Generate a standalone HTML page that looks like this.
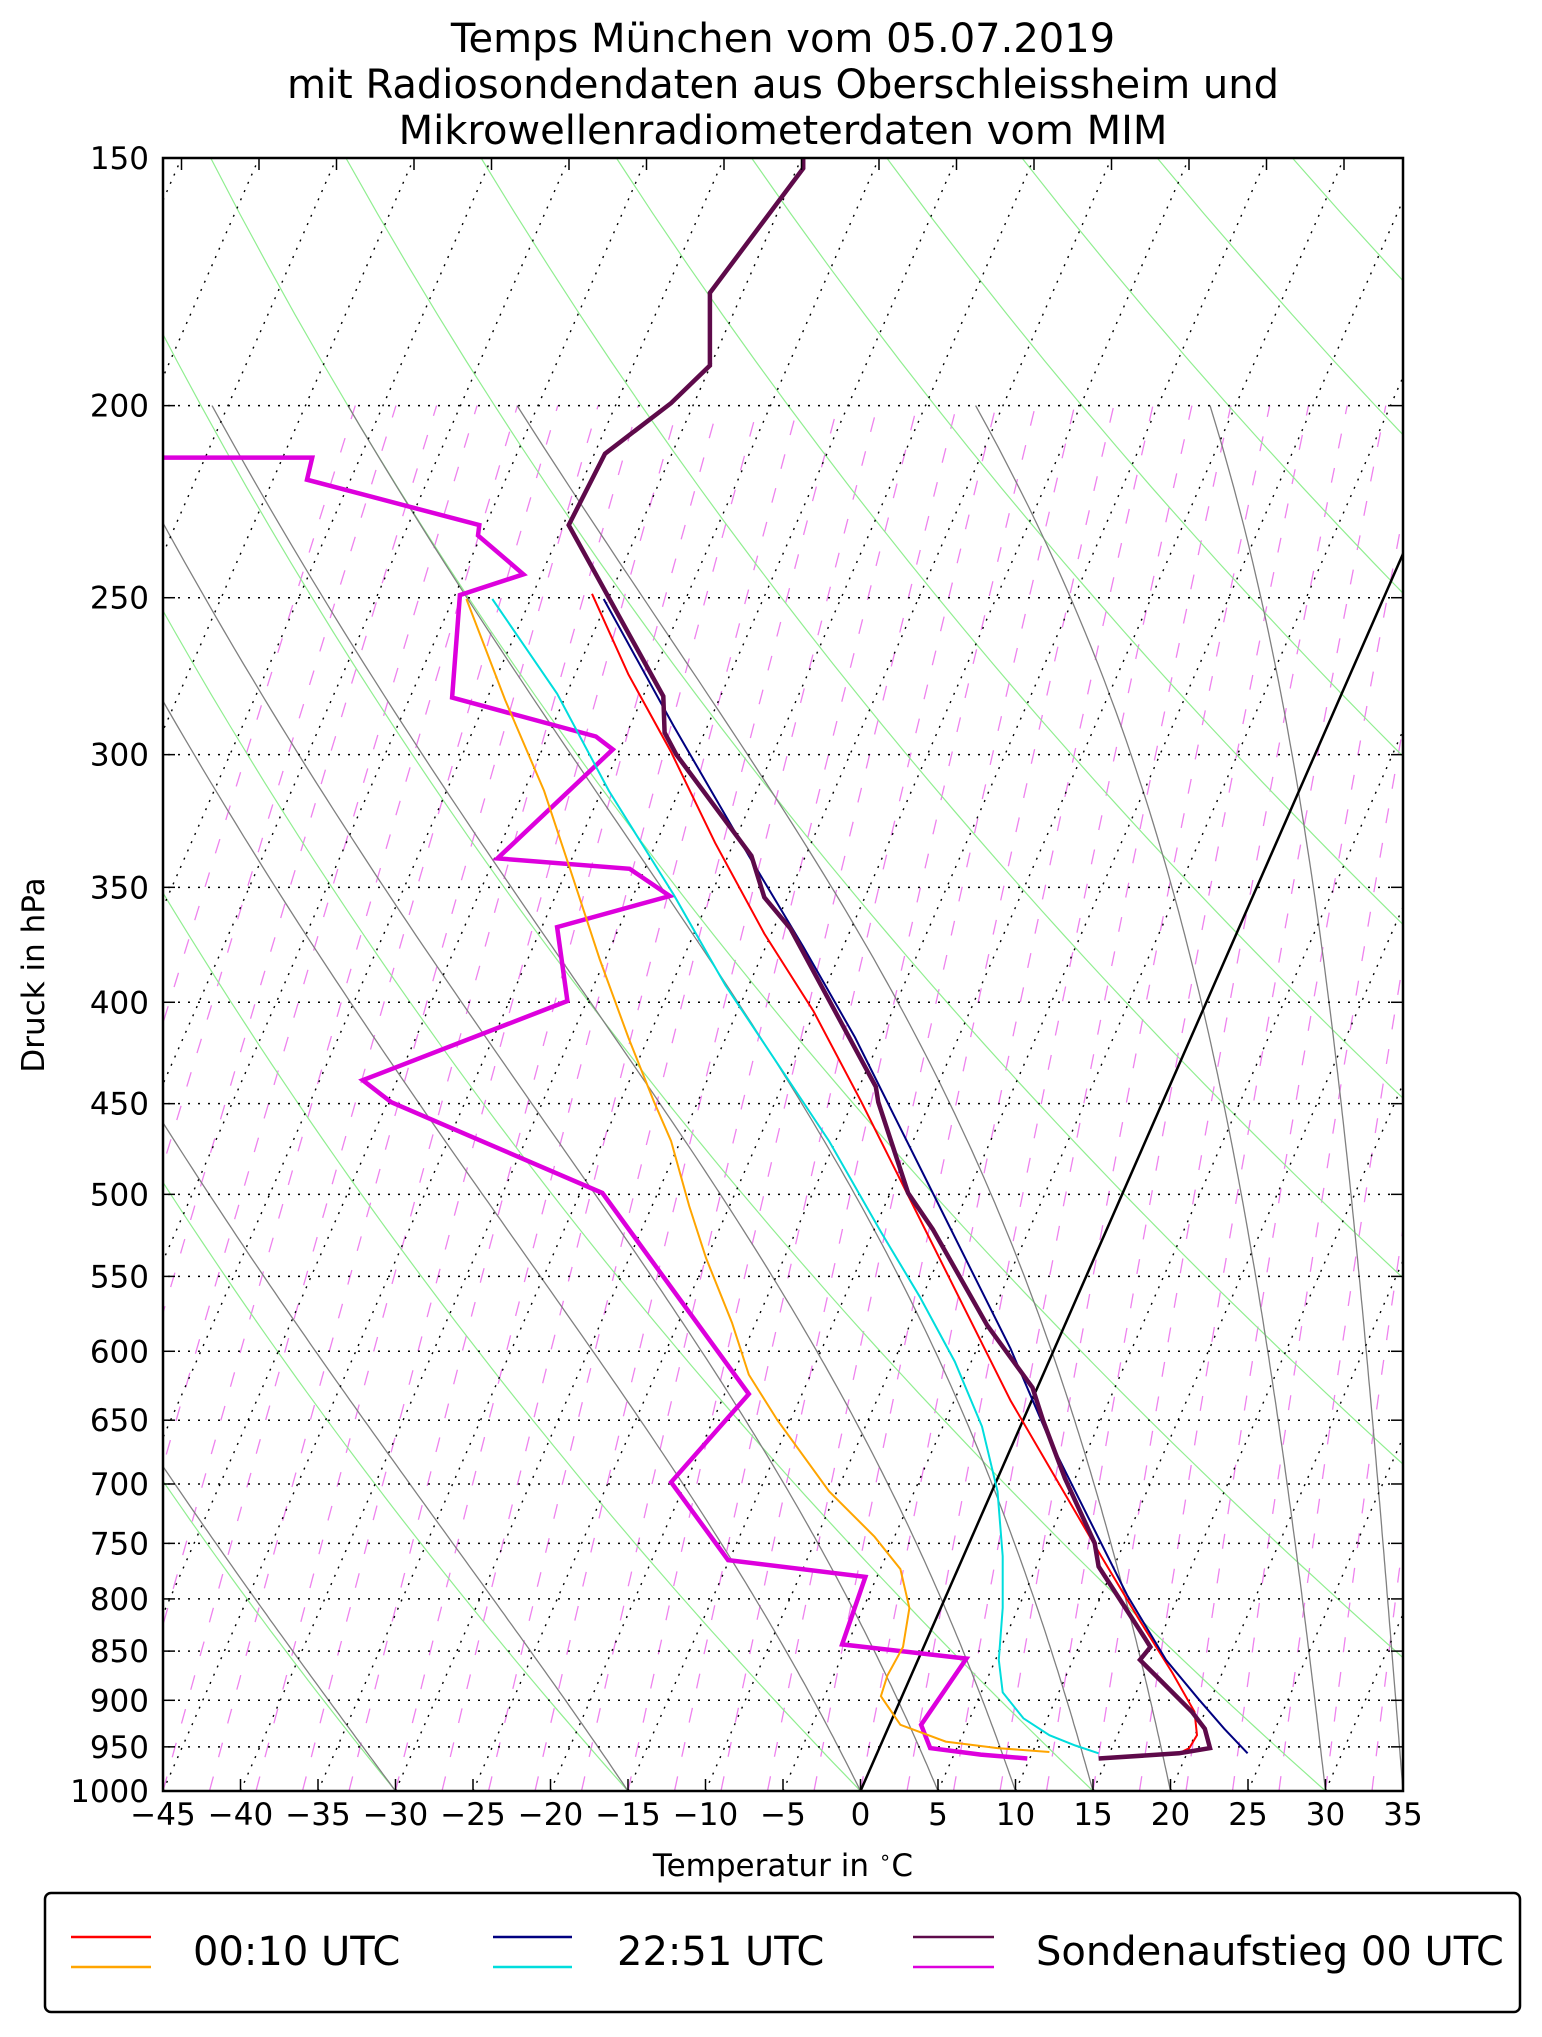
<!DOCTYPE html>
<html><head><meta charset="utf-8">
<style>
html,body{margin:0;padding:0;background:#fff;}
svg text{font-family:"DejaVu Sans","Liberation Sans",sans-serif;}
</style></head>
<body>
<svg id="c" xmlns="http://www.w3.org/2000/svg" width="1542" height="2032" viewBox="0 0 1542 2032">
<defs><clipPath id="pc"><rect x="163" y="158" width="1240" height="1633"/></clipPath></defs>
<rect x="0" y="0" width="1542" height="2032" fill="#fff"/>
<g id="grid" clip-path="url(#pc)"></g>
<g id="data" clip-path="url(#pc)"></g>
<g id="axes"></g>
<text x="783" y="52" font-size="40" text-anchor="middle">Temps München vom 05.07.2019</text>
<text x="783" y="98" font-size="40" text-anchor="middle">mit Radiosondendaten aus Oberschleissheim und</text>
<text x="783" y="144" font-size="40" text-anchor="middle">Mikrowellenradiometerdaten vom MIM</text>
<text x="783" y="1876" font-size="31" text-anchor="middle">Temperatur in <tspan font-size="20" dy="-12">∘</tspan><tspan dy="12">C</tspan></text>
<text transform="translate(44,975) rotate(-90)" font-size="31" text-anchor="middle">Druck in hPa</text>
<rect x="45" y="1893" width="1475" height="119" rx="6" ry="6" fill="#fff" stroke="#000" stroke-width="2.5"/>
<line x1="71" y1="1937" x2="151" y2="1937" stroke="#ff0000" stroke-width="2.5"/>
<line x1="71" y1="1967" x2="151" y2="1967" stroke="#ffa500" stroke-width="2.5"/>
<text x="193" y="1965" font-size="40">00:10 UTC</text>
<line x1="493" y1="1937" x2="572" y2="1937" stroke="#000080" stroke-width="2.5"/>
<line x1="493" y1="1967" x2="572" y2="1967" stroke="#00dddd" stroke-width="2.5"/>
<text x="617" y="1965" font-size="40">22:51 UTC</text>
<line x1="913" y1="1937" x2="994" y2="1937" stroke="#5e0a4a" stroke-width="2.5"/>
<line x1="913" y1="1967" x2="994" y2="1967" stroke="#dd00dd" stroke-width="2.5"/>
<text x="1036" y="1965" font-size="40">Sondenaufstieg 00 UTC</text>
</svg>
<script>
(function(){
var NS="http://www.w3.org/2000/svg";
var L=163,R=1403,T=158,B=1791,PX=15.5,SK=0.4385;
function Y(p){return T+(B-T)*Math.log(p/150)/Math.log(1000/150);}
function X(t,p){return L+(t+45)*PX+SK*(B-Y(p));}
function el(par,tag,at){var e=document.createElementNS(NS,tag);for(var k in at)e.setAttribute(k,at[k]);par.appendChild(e);return e;}
var g=document.getElementById('grid'),d=document.getElementById('data'),ax=document.getElementById('axes');
function poly(par,pts,st){el(par,'polyline',Object.assign({points:pts.map(function(q){return q[0].toFixed(1)+','+q[1].toFixed(1);}).join(' '),fill:'none'},st));}
// mixing ratio lines
for(var td=-60;td<=40;td+=3){
  var es=6.112*Math.exp(17.67*td/(td+243.5));var w=0.622*es/(1000-es);var pts=[];
  for(var p=1000;p>=200;p-=10){var e=w*p/(0.622+w);var lg=Math.log(e/6.112);var t=243.5*lg/(17.67-lg);pts.push([X(t,p),Y(p)]);}
  poly(g,pts,{stroke:'#ee82ee','stroke-width':1.3,'stroke-dasharray':'15,20'});
}
// dry adiabats
for(var th=-30;th<=250;th+=15){var pts=[];for(var p=1000;p>=150;p-=10){var t=(th+273.15)*Math.pow(p/1000,0.2857)-273.15;pts.push([X(t,p),Y(p)]);}
  poly(g,pts,{stroke:'#90ee90','stroke-width':1.2});}
// moist adiabats
function dTdp(p,Tk){var tc=Tk-273.15;var es=6.112*Math.exp(17.67*tc/(tc+243.5));var rs=0.622*es/(p-es);
  var Rd=287.04,Cp=1005.7,Lv=2.501e6;return (Rd*Tk+Lv*rs)/(p*(Cp+Lv*Lv*rs*0.622/(Rd*Tk*Tk)));}
[-30,-15,0,5,10,15,20,30,35].forEach(function(t0){var Tk=t0+273.15,p=1000,h=-5,pts=[[X(t0,1000),Y(1000)]];
  while(p>200){var k1=dTdp(p,Tk),k2=dTdp(p+h/2,Tk+h/2*k1),k3=dTdp(p+h/2,Tk+h/2*k2),k4=dTdp(p+h,Tk+h*k3);
    Tk+=h/6*(k1+2*k2+2*k3+k4);p+=h;pts.push([X(Tk-273.15,p),Y(p)]);}
  poly(g,pts,{stroke:'#808080','stroke-width':1.3});});
// dotted isotherms
for(var t=-150;t<=40;t+=5){el(g,'line',{x1:X(t,1000),y1:B,x2:X(t,150),y2:T,stroke:'#000','stroke-width':1.4,'stroke-dasharray':'2,7'});}
// isobars
var pl=[200,250,300,350,400,450,500,550,600,650,700,750,800,850,900,950];
pl.forEach(function(p){el(g,'line',{x1:168,y1:Y(p),x2:1398,y2:Y(p),stroke:'#000','stroke-width':1.5,'stroke-dasharray':'2,8'});});
// 0 C line
el(g,'line',{x1:X(0,1000),y1:B,x2:X(0,150),y2:T,stroke:'#000','stroke-width':2.5});
// data (shown coords -> original)
function tr(a){var o=[];for(var i=0;i<a.length;i+=2)o.push([a[i]*1.2955,158+(a[i+1]-122)*1.297]);return o;}
var red=[457,458,485,520,518,580,552,650,590,720,628,780,665,850,700,920,740,1000,780,1080,815,1140,850,1200,880,1250,905,1290,922,1320,924,1338,918,1348,910,1352];
var orange=[360,462,390,540,420,610,440,670,463,740,485,800,505,850,518,880,532,930,545,970,565,1020,578,1060,600,1095,640,1150,675,1185,695,1210,702,1240,697,1270,685,1292,680,1308,695,1330,730,1343,770,1348,810,1351];
var blue=[466,462,520,560,578,660,620,730,660,800,690,860,720,920,750,980,780,1040,810,1110,840,1170,870,1230,900,1280,925,1310,945,1333,963,1352];
var cyan=[380,462,430,535,470,610,520,690,560,760,600,820,640,880,680,950,710,1000,737,1050,758,1100,770,1150,774,1200,774,1240,771,1280,774,1305,790,1325,810,1338,830,1346,848,1352];
var sT=[620,122,620,130,548,226,548,282,518,311,467,350,439,405,512,537,513,565,522,582,580,660,590,692,610,716,676,838,678,850,701,920,720,948,762,1022,797,1070,805,1095,822,1140,845,1190,848,1208,883,1262,888,1270,880,1280,895,1295,920,1320,930,1333,934,1348,910,1352,848,1356];
var sD=[120,353,241,353,237,370,370,405,369,413,404,443,355,459,349,538,460,568,473,578,384,662,486,670,517,691,430,715,438,772,280,833,302,850,465,920,578,1075,518,1143,562,1203,668,1216,650,1268,746,1279,711,1330,718,1348,757,1353,793,1356];
poly(d,tr(sD),{stroke:'#dd00dd','stroke-width':4.5,'stroke-linejoin':'miter'});
poly(d,tr(orange),{stroke:'#ffa500','stroke-width':2});
poly(d,tr(cyan),{stroke:'#00dddd','stroke-width':2});
poly(d,tr(red),{stroke:'#ff0000','stroke-width':2});
poly(d,tr(blue),{stroke:'#000080','stroke-width':2});
poly(d,tr(sT),{stroke:'#5e0a4a','stroke-width':4.5});
// axes frame
el(ax,'rect',{x:L,y:T,width:R-L,height:B-T,fill:'none',stroke:'#000','stroke-width':2.5});
for(var t=-45;t<=35;t+=5){var x=L+(t+45)*PX;el(ax,'line',{x1:x,y1:B,x2:x,y2:B-12,stroke:'#000','stroke-width':1.5});
  var xt=L+(t+45)*PX+18.5; if(xt<R) el(ax,'line',{x1:xt,y1:T,x2:xt,y2:T+12,stroke:'#000','stroke-width':1.5});
  var tx=el(ax,'text',{x:x,y:B+34,'font-size':31,'text-anchor':'middle'});tx.textContent=(t<0?'\u2212'+(-t):''+t);}
[150,200,250,300,350,400,450,500,550,600,650,700,750,800,850,900,950,1000].forEach(function(p){var y=Y(p);
  el(ax,'line',{x1:L,y1:y,x2:L+12,y2:y,stroke:'#000','stroke-width':1.5});el(ax,'line',{x1:R,y1:y,x2:R-12,y2:y,stroke:'#000','stroke-width':1.5});
  var tx=el(ax,'text',{x:149,y:y+11,'font-size':31,'text-anchor':'end'});tx.textContent=''+p;});
})();
</script>
</body></html>
